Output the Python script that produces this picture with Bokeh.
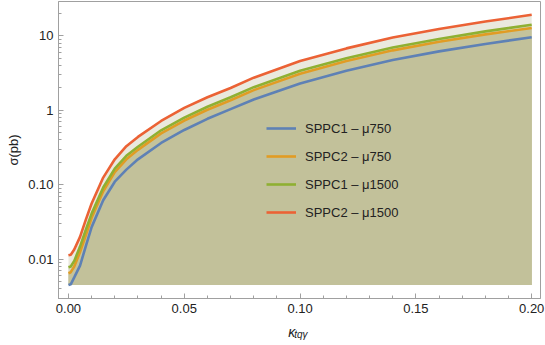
from bokeh.plotting import figure
from bokeh.models import (FixedTicker, Legend, LegendItem, LinearAxis,
                          NumeralTickFormatter, Range1d)
from bokeh.embed import file_html
from bokeh.resources import INLINE

# ---- data ----
kappa = [0, 0.001, 0.0025, 0.005, 0.0075, 0.01, 0.015, 0.02, 0.025, 0.03, 0.04,
         0.05, 0.06, 0.07, 0.08, 0.10, 0.12, 0.14, 0.16, 0.18, 0.20]
sppc1_mu750 = [0.0045, 0.0046, 0.0057, 0.0082, 0.015, 0.027, 0.062, 0.11, 0.16, 0.22, 0.365,
               0.545, 0.77, 1.04, 1.4, 2.3, 3.4, 4.75, 6.2, 7.8, 9.6]
sppc2_mu750 = [0.0065, 0.0067, 0.0080, 0.0125, 0.021, 0.036, 0.082, 0.148, 0.22, 0.295, 0.49,
               0.73, 1.02, 1.37, 1.87, 3.1, 4.6, 6.4, 8.35, 10.5, 12.8]
sppc1_mu1500 = [0.0078, 0.0080, 0.0095, 0.0148, 0.025, 0.041, 0.092, 0.165, 0.245, 0.325, 0.54,
                0.80, 1.12, 1.5, 2.05, 3.4, 5.0, 7.0, 9.1, 11.5, 14.1]
sppc2_mu1500 = [0.0113, 0.0115, 0.0135, 0.020, 0.034, 0.056, 0.125, 0.22, 0.33, 0.44, 0.72,
                1.08, 1.5, 2.0, 2.75, 4.6, 6.8, 9.5, 12.4, 15.6, 19.2]
fill_base = 0.0045

labels = ["SPPC1 \u2013 \u03bc750", "SPPC2 \u2013 \u03bc750",
          "SPPC1 \u2013 \u03bc1500", "SPPC2 \u2013 \u03bc1500"]
series = [sppc1_mu750, sppc2_mu750, sppc1_mu1500, sppc2_mu1500]
line_colors = ["#5E81B5", "#E19C24", "#8FB032", "#EB6235"]
fill_colors = ["#C2C19A", "#C4C39C", "#D8D6BD", "#EAE9DE"]

x_major = [0.0, 0.05, 0.10, 0.15, 0.20]
x_minor = [i / 100 for i in range(0, 21)]
y_major = [0.01, 0.1, 1, 10]
y_minor = [m * 10.0 ** e for e in (-3, -2, -1, 0, 1) for m in range(1, 10)]
y_labels = {0.01: "0.01", 0.1: "0.10", 1: "1", 10: "10"}

FONT = "Liberation Sans"
AX = "#A0A0A0"
NB = "\u00a0"

p = figure(width=545, height=345, x_range=Range1d(-0.0043, 0.2038),
           y_range=Range1d(0.00297, 29.0), y_axis_type="log",
           output_backend="svg", toolbar_location=None,
           min_border_left=58, min_border_right=5, min_border_top=1,
           min_border_bottom=47)
p.grid.visible = False
p.outline_line_color = AX
p.background_fill_color = "white"

# fills (largest first)
for vals, fc in reversed(list(zip(series, fill_colors))):
    p.varea(x=kappa, y1=[fill_base] * len(kappa), y2=vals, fill_color=fc, fill_alpha=1.0)

renderers = []
for vals, lc in zip(series, line_colors):
    r = p.line(kappa, vals, line_color=lc, line_width=2.6)
    renderers.append(r)

# axes styling
xa = p.xaxis[0]
xa.ticker = FixedTicker(ticks=x_major, minor_ticks=x_minor)
xa.formatter = NumeralTickFormatter(format="0.00")
xa.axis_label = "\u03ba" + NB * 4
xa.axis_label_text_font_style = "italic"
xa.axis_label_text_font = FONT
xa.axis_label_text_font_size = "14px"
xa.axis_label_text_color = "#222222"
xa.axis_label_standoff = 8

ya = p.yaxis[0]
ya.ticker = FixedTicker(ticks=y_major, minor_ticks=y_minor)
ya.major_label_overrides = y_labels
ya.axis_label = "\u03c3(pb)"
ya.axis_label_text_font_style = "normal"
ya.axis_label_text_font = FONT
ya.axis_label_text_font_size = "13px"
ya.axis_label_text_color = "#222222"
ya.axis_label_standoff = 4

for ax in (xa, ya):
    ax.axis_line_color = AX
    ax.major_tick_line_color = AX
    ax.minor_tick_line_color = AX
    ax.major_tick_in = 5
    ax.major_tick_out = 0
    ax.minor_tick_in = 3
    ax.minor_tick_out = 0
    ax.major_label_text_font = FONT
    ax.major_label_text_font_size = "13px"
    ax.major_label_text_color = "#222222"
    ax.major_label_standoff = 5

# subscript of the x axis label, carried by a tick-less second axis
sub = LinearAxis(ticker=FixedTicker(ticks=[], minor_ticks=[]),
                 axis_label=NB + "tq\u03b3",
                 axis_label_text_font=FONT, axis_label_text_font_size="10px",
                 axis_label_text_font_style="italic", axis_label_text_color="#222222",
                 axis_label_standoff=-14, axis_line_color=None,
                 major_tick_line_color=None, minor_tick_line_color=None,
                 major_label_standoff=0)
p.add_layout(sub, "below")

legend = Legend(items=[LegendItem(label=l, renderers=[r]) for l, r in zip(labels, renderers)],
                location=(208, 76), padding=0, margin=0, spacing=8,
                glyph_width=30, glyph_height=20, label_height=20, label_standoff=9,
                border_line_color=None, background_fill_alpha=0,
                label_text_font=FONT, label_text_font_size="13px",
                label_text_color="#222222")
p.add_layout(legend, "center")

open("out.html", "w").write(file_html(p, INLINE))
